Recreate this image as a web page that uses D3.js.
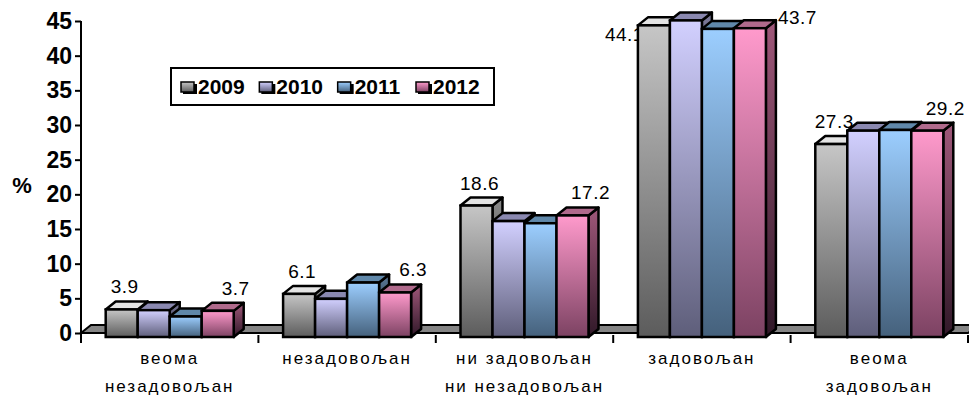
<!DOCTYPE html>
<html>
<head>
<meta charset="utf-8">
<script src="https://cdn.jsdelivr.net/npm/d3@7"></script>
<style>
  html, body { margin: 0; padding: 0; background: #fff; }
  svg { display: block; font-family: Arial, 'Liberation Sans', sans-serif; }
</style>
</head>
<body>
<div id="chart"></div>
<script>
const categories = [
  ['веома', 'незадовољан'],
  ['незадовољан'],
  ['ни задовољан', 'ни незадовољан'],
  ['задовољан'],
  ['веома', 'задовољан']
];
const years = ['2009', '2010', '2011', '2012'];
const values2009 = [3.9, 6.1, 18.6, 44.1, 27.3];
const values2010 = [3.8, 5.4, 16.4, 44.8, 29.2];
const values2011 = [2.9, 7.7, 16.1, 43.6, 29.3];
const values2012 = [3.7, 6.3, 17.2, 43.7, 29.2];
const yTicks = [0, 5, 10, 15, 20, 25, 30, 35, 40, 45];
// only first and last series carry data labels
const labelledYears = ['2009', '2012'];

const seriesValues = { '2009': values2009, '2010': values2010, '2011': values2011, '2012': values2012 };

// front face gradient (top, bottom), top face, side face gradient
const palette = {
  '2009': { front: ['#c6c6c6', '#5c5c5c'], top: '#e4e4e4', side: ['#8a8a8a', '#2e2e2e'] },
  '2010': { front: ['#d2d0ff', '#5e5e7a'], top: '#8a88b0', side: ['#7a7898', '#2a2a3a'] },
  '2011': { front: ['#9cceff', '#45617c'], top: '#6088aa', side: ['#5a7896', '#1e2a38'] },
  '2012': { front: ['#ff9acc', '#7c4262'], top: '#b06a8c', side: ['#a0587a', '#301828'] }
};

const W = 969, H = 399;
const depth = { dx: 10, dy: -8 };
const barW = 32;

const svg = d3.select('#chart').append('svg').attr('width', W).attr('height', H);
const defs = svg.append('defs');

for (const yr of years) {
  const p = palette[yr];
  const gf = defs.append('linearGradient').attr('id', 'front' + yr)
    .attr('x1', 0).attr('y1', 0).attr('x2', 0).attr('y2', 1);
  gf.append('stop').attr('offset', '0%').attr('stop-color', p.front[0]);
  gf.append('stop').attr('offset', '100%').attr('stop-color', p.front[1]);
  const gs = defs.append('linearGradient').attr('id', 'side' + yr)
    .attr('x1', 0).attr('y1', 0).attr('x2', 0).attr('y2', 1);
  gs.append('stop').attr('offset', '0%').attr('stop-color', p.side[0]);
  gs.append('stop').attr('offset', '100%').attr('stop-color', p.side[1]);
}

// axis scale and bar scale (bars sit slightly in front of the floor edge)
const yAxis = d3.scaleLinear().domain([0, 45]).range([333, 21]);
const yBar = d3.scaleLinear().domain([0, 45]).range([337, 19]);
const x0 = d3.scaleBand().domain(d3.range(categories.length)).range([81, 968]);
const x1 = d3.scaleBand().domain(years).range([0, barW * years.length]);

const clusterLeft = i => x0(i) + (x0.bandwidth() - barW * years.length) / 2;

// floor
const fl = yAxis(0);
svg.append('path')
  .attr('d', `M81,${fl} L968,${fl} L${968 + depth.dx},${fl + depth.dy} L${81 + depth.dx},${fl + depth.dy} Z`)
  .attr('fill', '#858585').attr('stroke', '#000').attr('stroke-width', 2);

// y axis
const ax = svg.append('g').attr('transform', 'translate(81,0)')
  .call(d3.axisLeft(yAxis).tickValues(yTicks).tickSize(6).tickPadding(3).tickFormat(d3.format('d')));
ax.select('.domain').attr('stroke', '#000').attr('stroke-width', 2)
  .attr('d', `M0,${yAxis(45)}V${yAxis(0) + 10}`);
ax.selectAll('.tick line').attr('stroke', '#000').attr('stroke-width', 2);
ax.selectAll('.tick text').attr('fill', '#000').attr('font-size', '23px').attr('font-weight', 'bold')
  .attr('font-family', 'Arial, Liberation Sans, sans-serif');

svg.append('text').attr('x', 22).attr('y', 193).attr('text-anchor', 'middle')
  .attr('font-size', '22px').attr('font-weight', 'bold').text('%');

// category ticks along the bottom
svg.append('g').selectAll('line').data(d3.range(1, categories.length + 1)).join('line')
  .attr('x1', i => x0(0) + i * x0.bandwidth()).attr('x2', i => x0(0) + i * x0.bandwidth())
  .attr('y1', fl + 2).attr('y2', fl + 10)
  .attr('stroke', '#000').attr('stroke-width', 2);

// category labels
const catG = svg.append('g').selectAll('text').data(categories).join('text')
  .attr('text-anchor', 'middle').attr('font-size', '17px').attr('letter-spacing', '2px')
  .attr('fill', '#000');
catG.each(function (lines, i) {
  d3.select(this).selectAll('tspan').data(lines).join('tspan')
    .attr('x', x0(i) + x0.bandwidth() / 2)
    .attr('y', (d, j) => 364 + j * 28)
    .text(d => d);
});

// data labels (drawn beneath the bars, like the reference where 44.1 is partly hidden)
const labelG = svg.append('g');
categories.forEach((c, i) => {
  labelledYears.forEach(yr => {
    const v = seriesValues[yr][i];
    const bx = clusterLeft(i) + x1(yr);
    const top = yBar(v);
    let tx = bx + barW / 2 + (yr === '2009' ? 3 : 18);
    let ty = top + depth.dy - 8;
    let anchor = 'middle';
    if (ty < 20) {
      // no room above: push label beside the bar
      if (yr === '2009') { tx = bx + 6; ty = top + 16; anchor = 'end'; }
      else { tx = bx + barW + depth.dx + 2; ty = top - 4; anchor = 'start'; }
    }
    labelG.append('text').attr('x', tx).attr('y', ty).attr('text-anchor', anchor)
      .attr('font-size', '19px').attr('letter-spacing', '0.5px').attr('fill', '#000').text(v);
  });
});

// bars, painted left to right so each front face covers the previous side face
const barG = svg.append('g');
categories.forEach((c, i) => {
  years.forEach(yr => {
    const v = seriesValues[yr][i];
    const bx = clusterLeft(i) + x1(yr);
    const top = yBar(v), bot = yBar(0);
    const g = barG.append('g');
    g.append('path')
      .attr('d', `M${bx + barW},${top} L${bx + barW + depth.dx},${top + depth.dy} L${bx + barW + depth.dx},${bot + depth.dy} L${bx + barW},${bot} Z`)
      .attr('fill', `url(#side${yr})`).attr('stroke', '#000').attr('stroke-width', 2.5).attr('stroke-linejoin', 'round');
    g.append('path')
      .attr('d', `M${bx},${top} L${bx + barW},${top} L${bx + barW + depth.dx},${top + depth.dy} L${bx + depth.dx},${top + depth.dy} Z`)
      .attr('fill', palette[yr].top).attr('stroke', '#000').attr('stroke-width', 2.5).attr('stroke-linejoin', 'round');
    g.append('rect')
      .attr('x', bx).attr('y', top).attr('width', barW).attr('height', bot - top)
      .attr('fill', `url(#front${yr})`).attr('stroke', '#000').attr('stroke-width', 2.5);
  });
});

// legend
const legend = svg.append('g');
legend.append('rect').attr('x', 171).attr('y', 68).attr('width', 323).attr('height', 37)
  .attr('fill', '#fff').attr('stroke', '#000').attr('stroke-width', 2);
const legendX = d3.scalePoint().domain(years).range([181, 416]);
const items = legend.selectAll('g.item').data(years).join('g').attr('class', 'item')
  .attr('transform', d => `translate(${legendX(d)},0)`);
items.append('rect').attr('x', 2).attr('y', 84).attr('width', 14).attr('height', 10).attr('fill', '#000');
items.append('rect').attr('x', 0).attr('y', 82).attr('width', 13).attr('height', 10)
  .attr('fill', d => `url(#front${d})`).attr('stroke', '#000').attr('stroke-width', 1.5);
items.append('text').attr('x', 17).attr('y', 94).attr('font-size', '21px').attr('font-weight', 'bold')
  .attr('fill', '#000').text(d => d);
</script>
</body>
</html>
